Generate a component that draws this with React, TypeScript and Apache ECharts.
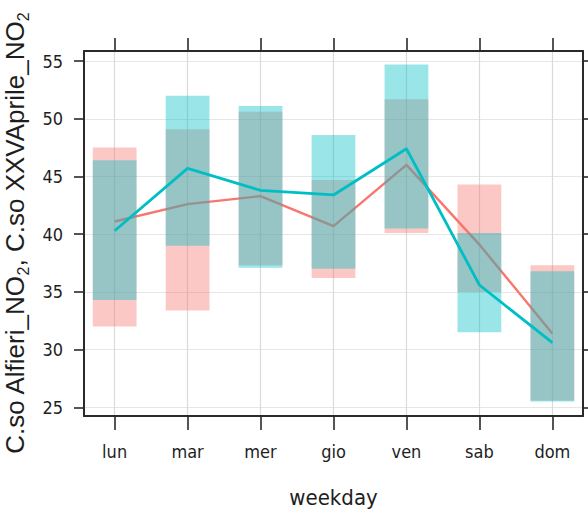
import React, { useEffect, useRef } from "react";
import * as echarts from "echarts";

const days = ["lun", "mar", "mer", "gio", "ven", "sab", "dom"];
const yTicks = [25, 30, 35, 40, 45, 50, 55];

const alfieriLow = [32.0, 33.4, 37.3, 36.2, 40.1, 35.0, 25.6];
const alfieriHigh = [47.5, 49.1, 50.6, 44.7, 51.7, 44.3, 37.3];
const alfieriMean = [41.1, 42.6, 43.3, 40.7, 46.0, 39.1, 31.4];

const xxvLow = [34.3, 39.0, 37.1, 37.0, 40.5, 31.5, 25.5];
const xxvHigh = [46.4, 52.0, 51.1, 48.6, 54.7, 40.1, 36.8];
const xxvMean = [40.3, 45.7, 43.8, 43.4, 47.4, 35.6, 30.6];

const RED = "#F8766D";
const CYAN = "#00BFC4";
const NARROW = "'Liberation Sans Narrow', 'DejaVu Sans Condensed', 'Liberation Sans', sans-serif";
const SANS = "'Liberation Sans', Arial, sans-serif";
const FRAME = "#2a2a2a";

export default function App() {
  const ref = useRef<HTMLDivElement>(null);
  useEffect(() => {
    if (!ref.current) return;
    const chart = echarts.init(ref.current, undefined, { renderer: "svg" });
    const xIdx = days.map((_, i) => i);

    const rectSeries = (low: number[], high: number[], color: string, name: string) => ({
      type: "custom",
      name,
      z: 3,
      data: xIdx.map((i) => [i, low[i], high[i]]),
      encode: { x: 0, y: [1, 2] },
      renderItem: (params: any, api: any) => {
        const x = api.value(0);
        const p1 = api.coord([x - 0.3, api.value(2)]);
        const p2 = api.coord([x + 0.3, api.value(1)]);
        return {
          type: "rect",
          shape: { x: p1[0], y: p1[1], width: p2[0] - p1[0], height: p2[1] - p1[1] },
          style: { fill: color, opacity: 0.4 },
        };
      },
    });

    const frameLine = { show: true, onZero: false, lineStyle: { color: FRAME, width: 2 } };
    const tickStyle = { color: FRAME, width: 1.6 };

    const option: any = {
      animation: false,
      grid: { left: 84, top: 51, right: 5, bottom: 95, outerBoundsMode: "none" },
      xAxis: [
        {
          type: "value",
          min: -0.42,
          max: 6.42,
          position: "bottom",
          name: "weekday",
          nameLocation: "middle",
          nameGap: 70,
          nameTextStyle: { fontFamily: NARROW, fontSize: 22, color: "#1e1e1e" },
          axisLine: frameLine,
          axisTick: { show: true, inside: false, length: 14, customValues: xIdx, lineStyle: tickStyle },
          axisLabel: {
            customValues: xIdx,
            margin: 26,
            fontFamily: NARROW,
            fontSize: 18,
            color: "#1e1e1e",
            formatter: (v: number) => days[Math.round(v)] ?? "",
          },
          splitLine: { show: true, lineStyle: { color: "#dadada", width: 1.2 } },
        },
        {
          type: "value",
          min: -0.42,
          max: 6.42,
          position: "top",
          axisLine: frameLine,
          axisTick: { show: true, inside: false, length: 13, customValues: xIdx, lineStyle: tickStyle },
          axisLabel: { show: false },
          splitLine: { show: false },
        },
      ],
      yAxis: [
        {
          type: "value",
          min: 24.25,
          max: 55.87,
          position: "left",
          name: "{t|C.so Alfieri_NO}{s|2}{t|, C.so XXVAprile_NO}{s|2}",
          nameLocation: "middle",
          nameRotate: 90,
          nameGap: 43,
          nameTextStyle: {
            rich: {
              t: { fontFamily: SANS, fontSize: 26, color: "#1e1e1e", verticalAlign: "bottom", padding: [0, 0, 3, 0] },
              s: { fontFamily: SANS, fontSize: 16, color: "#1e1e1e", verticalAlign: "bottom" },
            },
          },
          axisLine: frameLine,
          axisTick: { show: true, inside: false, length: 10, customValues: yTicks, lineStyle: tickStyle },
          axisLabel: { customValues: yTicks, margin: 21, fontFamily: NARROW, fontSize: 18, color: "#1e1e1e" },
          splitLine: { show: true, lineStyle: { color: "#e6e6e6", width: 1.2 } },
        },
        {
          type: "value",
          min: 24.25,
          max: 55.87,
          position: "right",
          axisLine: frameLine,
          axisTick: { show: true, inside: false, length: 13, customValues: yTicks, lineStyle: tickStyle },
          axisLabel: { show: false },
          splitLine: { show: false },
        },
      ],
      series: [
        {
          type: "line",
          name: "C.so Alfieri_NO2",
          z: 2,
          symbol: "none",
          data: xIdx.map((i) => [i, alfieriMean[i]]),
          lineStyle: { color: RED, width: 2.4 },
        },
        rectSeries(alfieriLow, alfieriHigh, RED, "Alfieri range"),
        rectSeries(xxvLow, xxvHigh, CYAN, "XXVAprile range"),
        {
          type: "line",
          name: "C.so XXVAprile_NO2",
          z: 4,
          symbol: "none",
          data: xIdx.map((i) => [i, xxvMean[i]]),
          lineStyle: { color: CYAN, width: 2.8 },
        },
      ],
    };
    chart.setOption(option);
    return () => chart.dispose();
  }, []);
  return (
    <div
      ref={ref}
      style={{ position: "fixed", left: 0, top: 0, width: 588, height: 511, background: "#fff" }}
    />
  );
}
